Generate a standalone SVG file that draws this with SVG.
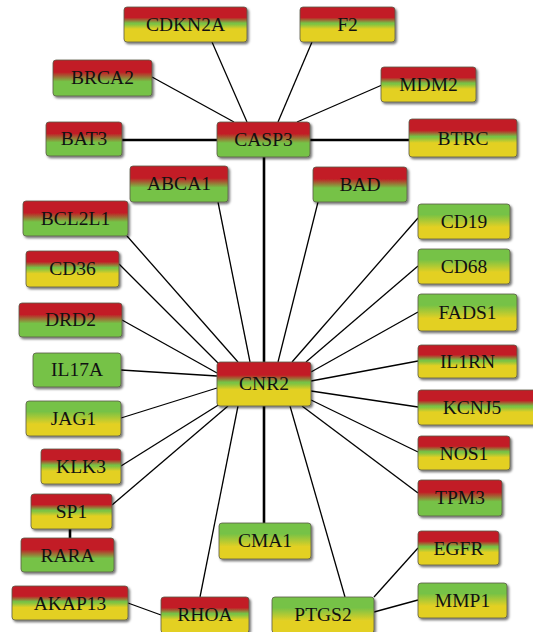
<svg xmlns="http://www.w3.org/2000/svg" width="533" height="632" viewBox="0 0 533 632">
  <defs>
    <!-- red / green / yellow banded fill -->
    <linearGradient id="gRY" x1="0" y1="0" x2="0" y2="1">
      <stop offset="0" stop-color="#c21e26"/>
      <stop offset="0.3" stop-color="#c21e26"/>
      <stop offset="0.46" stop-color="#76c246"/>
      <stop offset="0.5" stop-color="#86c440"/>
      <stop offset="0.63" stop-color="#e3d024"/>
      <stop offset="1" stop-color="#e3d024"/>
    </linearGradient>
    <!-- red / green fill -->
    <linearGradient id="gRG" x1="0" y1="0" x2="0" y2="1">
      <stop offset="0" stop-color="#c21e26"/>
      <stop offset="0.34" stop-color="#c21e26"/>
      <stop offset="0.6" stop-color="#76c246"/>
      <stop offset="1" stop-color="#76c246"/>
    </linearGradient>
    <!-- green / yellow fill -->
    <linearGradient id="gGY" x1="0" y1="0" x2="0" y2="1">
      <stop offset="0" stop-color="#76c246"/>
      <stop offset="0.3" stop-color="#76c246"/>
      <stop offset="0.66" stop-color="#e3d024"/>
      <stop offset="1" stop-color="#e3d024"/>
    </linearGradient>
    <filter id="shadow" x="-10%" y="-20%" width="130%" height="160%">
      <feDropShadow dx="1.6" dy="1.8" stdDeviation="1" flood-color="#000" flood-opacity="0.55"/>
    </filter>
  </defs>
  <style>
    .node rect { stroke: #5a5a4a; stroke-width: 0.8; filter: url(#shadow); }
    .ry rect { fill: url(#gRY); }
    .rg rect { fill: url(#gRG); }
    .gy rect { fill: url(#gGY); }
    .g rect { fill: #76c246; }
    .node text { font-family: "Liberation Serif", "Times New Roman", serif; font-size: 19.5px; fill: #111; text-anchor: middle; }
    .edge { stroke: #000; stroke-width: 1.3; fill: none; }
    .thick { stroke: #000; stroke-width: 2.6; fill: none; }
  </style>

  <rect width="533" height="632" fill="#fff"/>

  <g id="edges">
    <!-- CASP3 neighbours -->
    <line class="edge" x1="212" y1="42" x2="247" y2="122"/>
    <line class="edge" x1="312" y1="42" x2="278" y2="122"/>
    <line class="edge" x1="152" y1="77" x2="234" y2="122"/>
    <line class="edge" x1="382" y1="85" x2="297" y2="122"/>
    <line class="thick" x1="122" y1="140" x2="217" y2="140"/>
    <line class="thick" x1="310" y1="140" x2="409" y2="140"/>
    <line class="thick" x1="264" y1="157" x2="264" y2="362"/>
    <!-- CNR2 neighbours -->
    <line class="edge" x1="218" y1="202" x2="250" y2="362"/>
    <line class="edge" x1="318" y1="202" x2="278" y2="362"/>
    <line class="edge" x1="127" y1="236" x2="238" y2="362"/>
    <line class="edge" x1="119" y1="264" x2="220" y2="365"/>
    <line class="edge" x1="122" y1="320" x2="217" y2="373"/>
    <line class="edge" x1="121" y1="370" x2="217" y2="376"/>
    <line class="edge" x1="121" y1="418" x2="217" y2="388"/>
    <line class="edge" x1="121" y1="466" x2="220" y2="404"/>
    <line class="edge" x1="112" y1="505" x2="228" y2="406"/>
    <line class="edge" x1="200" y1="597" x2="238" y2="406"/>
    <line class="thick" x1="264" y1="406" x2="264" y2="523"/>
    <line class="edge" x1="345" y1="597" x2="290" y2="406"/>
    <line class="edge" x1="418" y1="493" x2="302" y2="406"/>
    <line class="edge" x1="418" y1="452" x2="311" y2="400"/>
    <line class="edge" x1="418" y1="407" x2="311" y2="391"/>
    <line class="edge" x1="418" y1="361" x2="311" y2="381"/>
    <line class="edge" x1="418" y1="312" x2="311" y2="372"/>
    <line class="edge" x1="418" y1="266" x2="306" y2="362"/>
    <line class="edge" x1="418" y1="218" x2="292" y2="362"/>
    <!-- outer links -->
    <line class="thick" x1="70" y1="529" x2="70" y2="538"/>
    <line class="edge" x1="128" y1="603" x2="161" y2="615"/>
    <line class="edge" x1="374" y1="597" x2="418" y2="548"/>
    <line class="edge" x1="374" y1="612" x2="418" y2="600"/>
  </g>

  <g id="CDKN2A" class="node ry"><rect x="124" y="7" width="123" height="35" rx="3"/><text x="185.5" y="31">CDKN2A</text></g>
  <g id="F2" class="node ry"><rect x="300" y="7" width="95" height="35" rx="3"/><text x="347.5" y="31">F2</text></g>
  <g id="BRCA2" class="node rg"><rect x="53" y="60" width="99" height="36" rx="3"/><text x="102.5" y="84">BRCA2</text></g>
  <g id="MDM2" class="node ry"><rect x="381" y="67" width="95" height="35" rx="3"/><text x="428.5" y="91">MDM2</text></g>
  <g id="BAT3" class="node rg"><rect x="46" y="122" width="76" height="34" rx="3"/><text x="84" y="145">BAT3</text></g>
  <g id="CASP3" class="node rg"><rect x="217" y="122" width="93" height="35" rx="3"/><text x="263.5" y="146">CASP3</text></g>
  <g id="BTRC" class="node ry"><rect x="409" y="119" width="108" height="38" rx="3"/><text x="463" y="145">BTRC</text></g>
  <g id="ABCA1" class="node rg"><rect x="130" y="166" width="98" height="36" rx="3"/><text x="179" y="190">ABCA1</text></g>
  <g id="BAD" class="node rg"><rect x="313" y="167" width="94" height="35" rx="3"/><text x="360" y="191">BAD</text></g>
  <g id="BCL2L1" class="node rg"><rect x="23" y="201" width="105" height="35" rx="3"/><text x="75.5" y="225">BCL2L1</text></g>
  <g id="CD19" class="node gy"><rect x="418" y="204" width="92" height="35" rx="3"/><text x="464" y="228">CD19</text></g>
  <g id="CD36" class="node ry"><rect x="26" y="251" width="93" height="36" rx="3"/><text x="72.5" y="275">CD36</text></g>
  <g id="CD68" class="node gy"><rect x="418" y="249" width="92" height="35" rx="3"/><text x="464" y="273">CD68</text></g>
  <g id="FADS1" class="node gy"><rect x="418" y="294" width="99" height="37" rx="3"/><text x="467.5" y="319">FADS1</text></g>
  <g id="DRD2" class="node rg"><rect x="19" y="303" width="103" height="34" rx="3"/><text x="70.5" y="326">DRD2</text></g>
  <g id="IL1RN" class="node ry"><rect x="418" y="345" width="99" height="33" rx="3"/><text x="467.5" y="368">IL1RN</text></g>
  <g id="IL17A" class="node g"><rect x="33" y="353" width="88" height="34" rx="3"/><text x="77" y="376">IL17A</text></g>
  <g id="CNR2" class="node ry"><rect x="217" y="362" width="94" height="44" rx="3"/><text x="264" y="390">CNR2</text></g>
  <g id="KCNJ5" class="node ry"><rect x="418" y="390" width="122" height="35" rx="3"/><text x="472" y="414">KCNJ5</text></g>
  <g id="JAG1" class="node gy"><rect x="26" y="401" width="95" height="35" rx="3"/><text x="73.5" y="425">JAG1</text></g>
  <g id="NOS1" class="node ry"><rect x="418" y="436" width="92" height="34" rx="3"/><text x="464" y="460">NOS1</text></g>
  <g id="KLK3" class="node ry"><rect x="41" y="449" width="80" height="35" rx="3"/><text x="81" y="473">KLK3</text></g>
  <g id="TPM3" class="node rg"><rect x="418" y="480" width="84" height="36" rx="3"/><text x="460" y="504">TPM3</text></g>
  <g id="SP1" class="node ry"><rect x="31" y="494" width="81" height="35" rx="3"/><text x="71.5" y="518">SP1</text></g>
  <g id="CMA1" class="node gy"><rect x="219" y="523" width="92" height="36" rx="3"/><text x="265" y="547">CMA1</text></g>
  <g id="EGFR" class="node ry"><rect x="418" y="531" width="81" height="34" rx="3"/><text x="458.5" y="555">EGFR</text></g>
  <g id="RARA" class="node rg"><rect x="21" y="538" width="93" height="34" rx="3"/><text x="67.5" y="562">RARA</text></g>
  <g id="MMP1" class="node gy"><rect x="418" y="583" width="89" height="35" rx="3"/><text x="462.5" y="607">MMP1</text></g>
  <g id="AKAP13" class="node ry"><rect x="12" y="586" width="116" height="34" rx="3"/><text x="70" y="610">AKAP13</text></g>
  <g id="RHOA" class="node ry"><rect x="161" y="597" width="88" height="36" rx="3"/><text x="205" y="621">RHOA</text></g>
  <g id="PTGS2" class="node gy"><rect x="272" y="597" width="102" height="36" rx="3"/><text x="323" y="621">PTGS2</text></g>
</svg>
